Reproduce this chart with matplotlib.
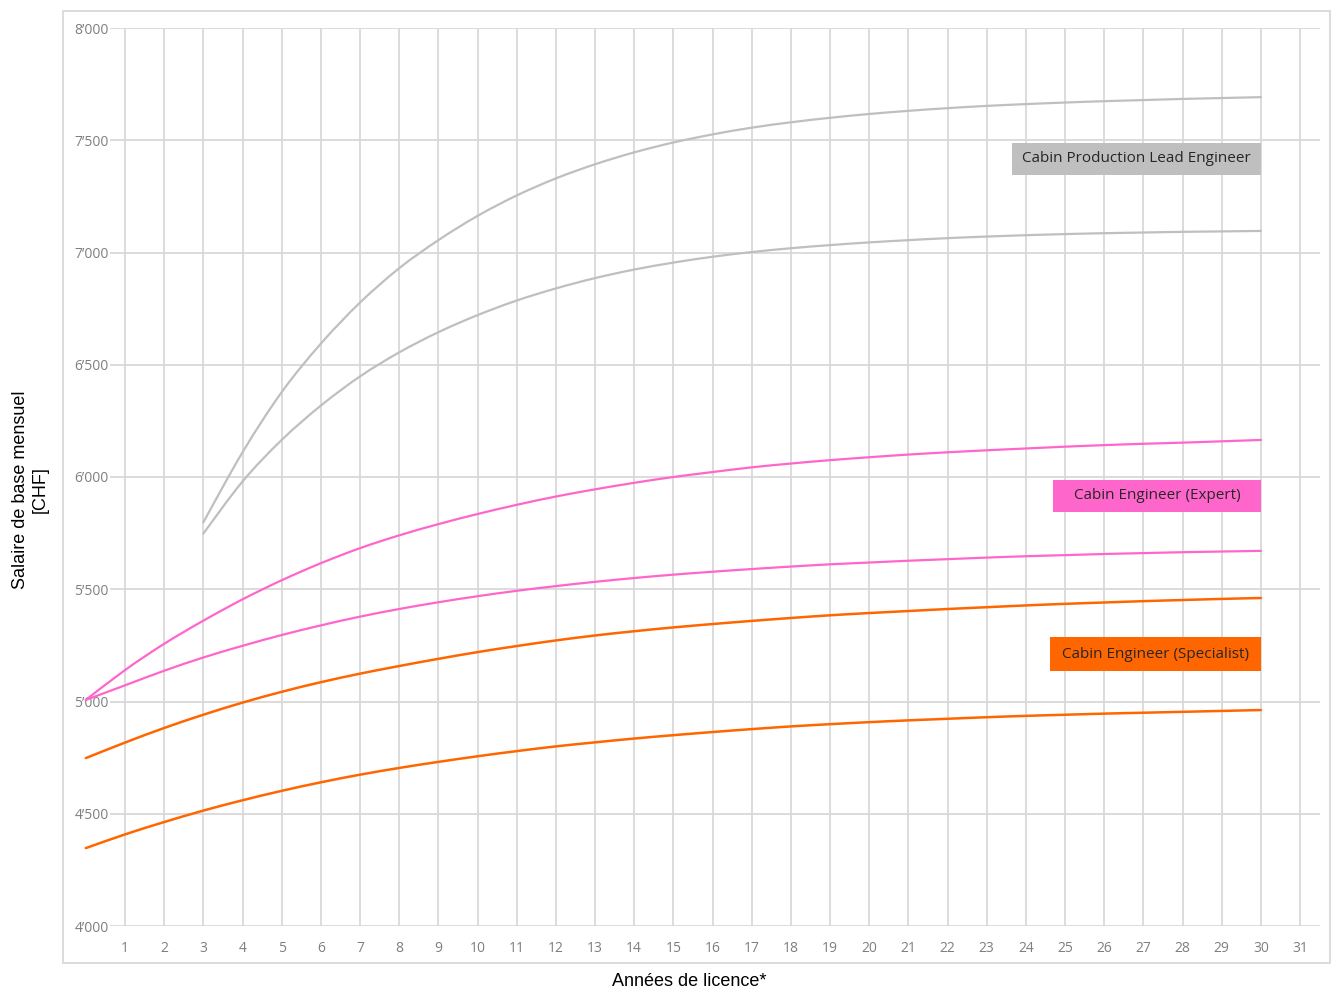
import numpy as np
import matplotlib
matplotlib.use("Agg")
import matplotlib.pyplot as plt
from matplotlib.patches import Rectangle, PathPatch
from matplotlib.path import Path
from matplotlib.ticker import FuncFormatter

# values (monthly base salary in CHF)
yearsLead = list(range(3, 31))
leadHigh = [5798, 6110, 6378, 6594, 6777, 6930, 7055, 7163, 7254, 7330, 7393, 7446, 7490, 7526,
            7556, 7580, 7600, 7617, 7631, 7643, 7653, 7661, 7668, 7674, 7679, 7684, 7688, 7692]
leadLow = [5748, 5980, 6165, 6318, 6448, 6555, 6645, 6721, 6786, 6840, 6886, 6924, 6955, 6981,
           7002, 7019, 7033, 7045, 7055, 7064, 7071, 7077, 7082, 7086, 7089, 7092, 7094, 7096]

years = list(range(0, 31))
expertHigh = [5007, 5140, 5257, 5360, 5455, 5540, 5616, 5683, 5740, 5790, 5835, 5876, 5913, 5945,
              5974, 6000, 6022, 6043, 6060, 6075, 6088, 6100, 6110, 6119, 6127, 6135, 6142, 6148,
              6153, 6159, 6165]
expertLow = [5007, 5072, 5137, 5196, 5248, 5296, 5339, 5378, 5412, 5442, 5469, 5493, 5514, 5533,
             5550, 5565, 5578, 5590, 5601, 5611, 5619, 5627, 5634, 5641, 5647, 5652, 5657, 5661,
             5665, 5668, 5671]
specHigh = [4748, 4817, 4882, 4941, 4995, 5043, 5086, 5124, 5158, 5190, 5220, 5247, 5272, 5294,
            5313, 5330, 5345, 5359, 5372, 5384, 5394, 5403, 5412, 5420, 5428, 5435, 5441, 5447,
            5452, 5457, 5461]
specLow = [4347, 4408, 4463, 4514, 4560, 4602, 4640, 4674, 4704, 4731, 4756, 4779, 4800, 4818,
           4835, 4850, 4864, 4877, 4889, 4899, 4908, 4916, 4923, 4930, 4936, 4941, 4946, 4950,
           4954, 4958, 4962]

labels = ["Cabin Production Lead Engineer", "Cabin Engineer (Expert)", "Cabin Engineer (Specialist)"]
grayCol = "#bfbfbf"
pinkCol = "#ff66cc"
orangeCol = "#ff6600"


def smooth_line(ax, xs, ys, color, lw):
    # Excel style "smoothed line": cubic bezier through the points
    xs = np.asarray(xs, float)
    ys = np.asarray(ys, float)
    verts = [(xs[0], ys[0])]
    codes = [Path.MOVETO]
    n = len(xs)
    for i in range(n - 1):
        x0, y0 = (xs[i - 1], ys[i - 1]) if i > 0 else (xs[i], ys[i])
        x3, y3 = (xs[i + 2], ys[i + 2]) if i + 2 < n else (xs[i + 1], ys[i + 1])
        c1 = (xs[i] + (xs[i + 1] - x0) / 6, ys[i] + (ys[i + 1] - y0) / 6)
        c2 = (xs[i + 1] - (x3 - xs[i]) / 6, ys[i + 1] - (y3 - ys[i]) / 6)
        verts += [c1, c2, (xs[i + 1], ys[i + 1])]
        codes += [Path.CURVE4] * 3
    ax.add_patch(PathPatch(Path(verts, codes), facecolor="none", edgecolor=color, lw=lw,
                           clip_on=False, capstyle="round", joinstyle="round"))


fig = plt.figure(figsize=(13.33, 9.89), dpi=100)
W, H = 1333, 989
# axes placed in pixel terms: left 110, right 1320, top 28, bottom 926
ax = fig.add_axes([110 / W, 1 - 926 / H, (1320 - 110) / W, (926 - 28) / H])

ax.set_xlim(1 - 15 / 39.17, 1 + 1195 / 39.17)
ax.set_ylim(4000, 8000)
ax.set_xticks(range(1, 32))
ax.set_yticks(range(4000, 8001, 500))
ax.yaxis.set_major_formatter(FuncFormatter(lambda v, p: f"{int(v) // 1000}\u2019{int(v) % 1000:03d}"))
ax.grid(True, color="#d9d9d9", linewidth=1.3)
ax.set_axisbelow(True)
for s in ax.spines.values():
    s.set_visible(False)
ax.tick_params(length=0, labelcolor="#7f7f7f", labelsize=10)
ax.tick_params(axis="x", pad=11)
ax.tick_params(axis="y", pad=1)
for t in ax.get_xticklabels() + ax.get_yticklabels():
    t.set_fontfamily(["Open Sans", "DejaVu Sans"])

smooth_line(ax, yearsLead, leadHigh, grayCol, 1.6)
smooth_line(ax, yearsLead, leadLow, grayCol, 1.6)
smooth_line(ax, years, expertHigh, pinkCol, 1.6)
smooth_line(ax, years, expertLow, pinkCol, 1.6)
smooth_line(ax, years, specHigh, orangeCol, 1.8)
smooth_line(ax, years, specLow, orangeCol, 1.8)

# label boxes
boxes = [(23.64, 7345, 143, grayCol), (24.69, 5844, 143, pinkCol), (24.61, 5136, 151, orangeCol)]
for (x0, y0, h, c), lab in zip(boxes, labels):
    ax.add_patch(Rectangle((x0, y0), 30 - x0, h, facecolor=c, edgecolor="none", zorder=3))
    ax.text((x0 + 30) / 2, y0 + h / 2, lab, ha="center", va="center", fontsize=11,
            family="Open Sans", color="#262626", zorder=4)

fig.text(30 / W, 1 - 490 / H, "Salaire de base mensuel\n[CHF]", rotation=90, ha="center",
         va="center", fontsize=13, family="Liberation Sans", multialignment="center")
fig.text(689 / W, 1 - 981 / H, "Années de licence*", ha="center", va="center", fontsize=13,
         family="Liberation Sans")

fig.add_artist(Rectangle((63 / W, 1 - 963 / H), (1330 - 63) / W, (963 - 11) / H,
                         transform=fig.transFigure, fill=False, edgecolor="#d9d9d9", lw=1.3))

fig.savefig("out.png", dpi=100)
